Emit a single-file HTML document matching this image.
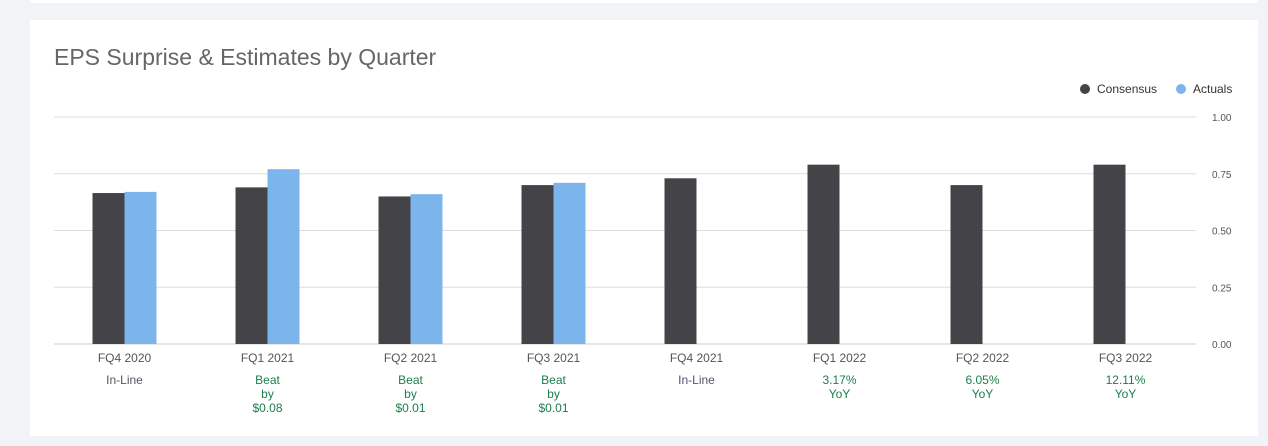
<!DOCTYPE html>
<html><head><meta charset="utf-8"><style>
body{margin:0;width:1268px;height:446px;background:#f2f3f7;font-family:"Liberation Sans",Arial,sans-serif;position:relative;overflow:hidden}
.topcard{position:absolute;left:30px;top:0;width:1228px;height:3px;background:#fff}
.card{position:absolute;left:30px;top:20px;width:1228px;height:416px;background:#fff}
h1{position:absolute;left:24px;top:24px;margin:0;font-weight:normal;font-size:23px;color:#666}
</style></head><body>
<div class="topcard"></div>
<div class="card">
<h1>EPS Surprise &amp; Estimates by Quarter</h1>
</div>
<svg id="chart" width="1268" height="446" style="position:absolute;left:0;top:0"></svg>
<script>
const categories=["FQ4 2020","FQ1 2021","FQ2 2021","FQ3 2021","FQ4 2021","FQ1 2022","FQ2 2022","FQ3 2022"];
const consensus=[0.665,0.69,0.65,0.70,0.73,0.79,0.70,0.79];
const actuals=[0.67,0.77,0.66,0.71,null,null,null,null];
const notes=[["In-Line"],["Beat","by","$0.08"],["Beat","by","$0.01"],["Beat","by","$0.01"],["In-Line"],["3.17%","YoY"],["6.05%","YoY"],["12.11%","YoY"]];
const ticks=[0,0.25,0.5,0.75,1.0];
const tickLabels=["0.00","0.25","0.50","0.75","1.00"];
const svg=document.getElementById('chart');
const NS="http://www.w3.org/2000/svg";
const y0=344,y1=117,xL=54,xR=1196;
const y=v=>y0-(v/1)*(y0-y1);
const step=(xR-xL+2)/categories.length;
const xc=i=>xL+step*(i+0.5)-1;
const bw=32;
function mk(t,a){const e=document.createElementNS(NS,t);for(const k in a)e.setAttribute(k,a[k]);svg.appendChild(e);return e;}
ticks.forEach((t,i)=>{
 const l=mk('line',{x1:xL,x2:xR,y1:y(t),y2:y(t),stroke:t===0?'#ccc':'#ddd','stroke-width':1});
 
 
 const tx=mk('text',{x:1212,y:y(t)+4,'font-size':10,fill:'#555'});
 tx.textContent=tickLabels[i];
 
 
});
categories.forEach((c,i)=>{
 const cx=xc(i);
 const b=mk('rect',{x:cx-bw,y:y(consensus[i]),width:bw,height:y0-y(consensus[i]),fill:'#444347'});
 
 
 if(actuals[i]!=null){
  const a=mk('rect',{x:cx,y:y(actuals[i]),width:bw,height:y0-y(actuals[i]),fill:'#7cb5ec'});
  
  
 }
 const t=mk('text',{x:cx,y:362,'font-size':12,fill:'#555','text-anchor':'middle'});
 t.textContent=c;
 
 
 notes[i].forEach((n,j)=>{
  const col=notes[i][0]==='In-Line'?'#5c4f6a':'#1a7f4a';
  const s=mk('text',{x:cx,y:384+j*14,'font-size':12,fill:col,'text-anchor':'middle'});
  s.textContent=n;
  
  
 });
});
const lg=[["Consensus","#444347",1085],["Actuals","#7cb5ec",1181]];
lg.forEach(l=>{
 const c=mk('circle',{cx:l[2],cy:89,r:5,fill:l[1]});
 
 
 const t=mk('text',{x:l[2]+12,y:93,'font-size':12,fill:'#333'});
 t.textContent=l[0];
 
 
});
</script>
</body></html>
